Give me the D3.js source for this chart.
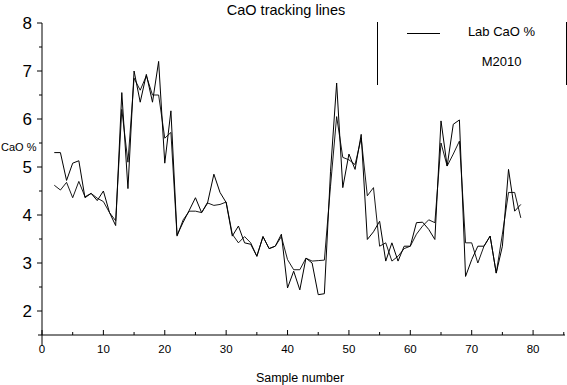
<!DOCTYPE html>
<html><head><meta charset="utf-8">
<script src="https://cdn.jsdelivr.net/npm/d3@7"></script>
<style>
body{margin:0;background:#fff;}
svg{display:block;font-family:Arial,"Liberation Sans",sans-serif;}
</style></head>
<body>
<svg id="c" width="567" height="385"></svg>
<script>
const samples = d3.range(2, 79);
const labCaO = [5.30,5.30,4.72,5.08,5.13,4.36,4.45,4.30,4.50,4.05,3.78,6.55,4.55,7.00,6.35,6.93,6.35,7.20,5.08,6.17,
  3.58,3.85,4.10,4.36,4.05,4.27,4.85,4.47,4.26,3.56,3.77,3.42,3.39,3.14,3.55,3.30,3.35,3.60,2.48,2.83,
  2.44,3.10,3.00,2.34,2.36,4.90,6.75,4.57,5.27,4.95,5.68,3.49,3.65,3.87,3.04,3.42,3.04,3.35,3.35,3.84,
  3.85,3.70,3.49,5.96,5.02,5.89,5.98,2.72,3.07,3.35,3.35,3.56,2.79,3.35,4.95,4.08,4.22];
const m2010 = [4.62,4.52,4.68,4.36,4.70,4.38,4.45,4.35,4.28,4.05,3.88,6.20,5.10,6.85,6.60,6.90,6.50,6.50,5.60,5.72,
  3.56,3.90,4.08,4.08,4.05,4.25,4.20,4.22,4.27,3.60,3.42,3.55,3.42,3.14,3.55,3.30,3.35,3.55,3.07,2.86,
  2.86,3.10,3.04,3.05,3.06,4.60,6.05,5.20,5.15,5.05,5.60,4.40,4.57,3.35,3.42,3.04,3.14,3.30,3.35,3.60,
  3.77,3.90,3.84,5.50,5.02,5.27,5.54,3.42,3.42,3.00,3.35,3.56,2.79,3.60,4.47,4.47,3.94];
const xMajorTicks = [0,10,20,30,40,50,60,70,80];
const yMajorTicks = [2,3,4,5,6,7,8];
const seriesNames = ["Lab CaO %", "M2010"];

const svg = d3.select("#c");
const x = d3.scaleLinear().domain([0, 85.2]).range([42, 565]);
const y = d3.scaleLinear().domain([1.5, 8]).range([335, 23]);

// title
svg.append("text").attr("x", 286).attr("y", 15).attr("text-anchor","middle")
  .attr("font-size", 14.5).attr("fill","#000").text("CaO tracking lines");

// x axis
const gx = svg.append("g").attr("transform","translate(0,335)");
gx.append("line").attr("x1",38).attr("x2",565).attr("stroke","#000");
gx.selectAll(".xt").data(d3.range(0, 86, 5)).join("line")
  .attr("x1", d=>x(d)).attr("x2", d=>x(d)).attr("y1",0).attr("y2", d=> d%10===0 ? -5 : -3).attr("stroke","#000");
gx.selectAll(".xl").data(xMajorTicks).join("text")
  .attr("x", d=>x(d)).attr("y", 18).attr("text-anchor","middle").attr("font-size", 11.5).text(d=>d);
svg.append("text").attr("x", 300).attr("y", 382).attr("text-anchor","middle")
  .attr("font-size", 12.5).text("Sample number");

// y axis
const gy = svg.append("g").attr("transform","translate(42,0)");
gy.append("line").attr("y1", 23).attr("y2", 346).attr("stroke","#000");
gy.selectAll(".yt").data(d3.range(2, 8.01, 0.5)).join("line")
  .attr("y1", d=>y(d)).attr("y2", d=>y(d)).attr("x1", d=> d%1===0 ? -5 : -3).attr("x2",0).attr("stroke","#000");
gy.selectAll(".yl").data(yMajorTicks).join("text")
  .attr("x", -10).attr("y", d=>y(d)+6).attr("text-anchor","end").attr("font-size", 17).text(d=>d);
svg.append("text").attr("x", 1).attr("y", 151).attr("font-size", 11).text("CaO %");

// lines
const line = d3.line().x((d,i)=>x(samples[i])).y(d=>y(d));
svg.append("path").datum(m2010).attr("d", line).attr("fill","none").attr("stroke","#000").attr("stroke-width",0.9);
svg.append("path").datum(labCaO).attr("d", line).attr("fill","none").attr("stroke","#000").attr("stroke-width",1);

// legend
svg.append("line").attr("x1",377.5).attr("x2",377.5).attr("y1",22).attr("y2",85).attr("stroke","#000");
svg.append("line").attr("x1",566.5).attr("x2",566.5).attr("y1",22).attr("y2",85).attr("stroke","#000");
svg.append("line").attr("x1",407).attr("x2",440).attr("y1",33.5).attr("y2",33.5).attr("stroke","#000");
svg.append("text").attr("x",501.5).attr("y",36).attr("text-anchor","middle").attr("font-size",13).text(seriesNames[0]);
svg.append("text").attr("x",501.5).attr("y",66).attr("text-anchor","middle").attr("font-size",13).text(seriesNames[1]);
</script>
</body></html>
